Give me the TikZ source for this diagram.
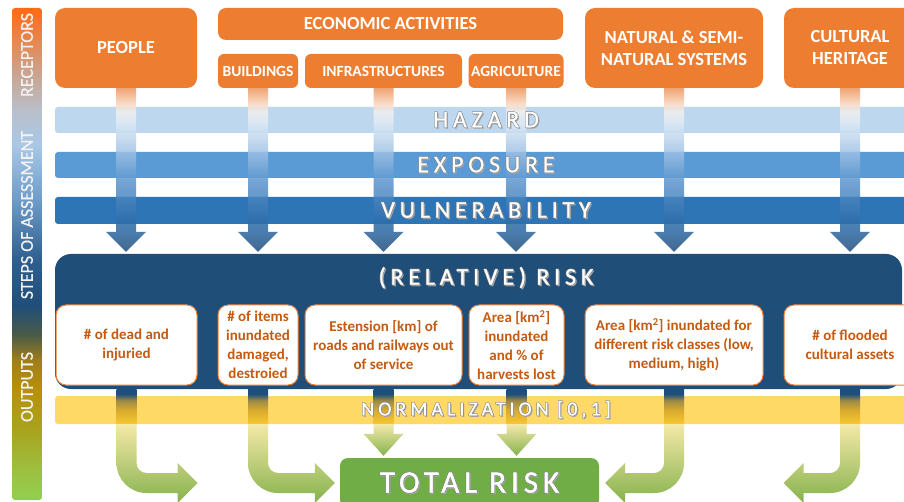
\documentclass[tikz,border=0pt]{standalone}
\usepackage{fontspec}
\setmainfont{Carlito}
\newfontfamily\bandfont[LetterSpace=20,FakeBold=0.8]{Carlito}
\newfontfamily\totalfont[LetterSpace=16,FakeBold=1.4]{Carlito}
\newfontfamily\sidefont[FakeBold=0.5]{Carlito}
\usetikzlibrary{calc}

\definecolor{rcvorange}{HTML}{ED7D31}
\definecolor{hazc}{HTML}{BDD7EE}
\definecolor{expc}{HTML}{5B9BD5}
\definecolor{vulc}{HTML}{2E75B6}
\definecolor{riskc}{HTML}{1F4E79}
\definecolor{normc}{HTML}{FFD966}
\definecolor{totc}{HTML}{70AD47}
\definecolor{outtxt}{HTML}{C55A11}
\definecolor{sidetxtc}{HTML}{F2F2F2}
\definecolor{grtop}{HTML}{F3E9A8}
\definecolor{grbot}{HTML}{86B24C}
% side bar
\definecolor{bar1}{HTML}{92D050}\definecolor{bar2}{HTML}{9DC041}
\definecolor{bar3}{HTML}{A8A41E}\definecolor{bar4}{HTML}{B8900A}
\definecolor{bar5}{HTML}{A07E1A}\definecolor{bar6}{HTML}{4A5A48}
\definecolor{bar7}{HTML}{1F4E79}\definecolor{bar8}{HTML}{2F5F8F}
\definecolor{bar9}{HTML}{6E9CC8}\definecolor{bar10}{HTML}{A9C8E6}
\definecolor{bar11}{HTML}{B9BFCB}\definecolor{bar12}{HTML}{C9A593}
\definecolor{bar13}{HTML}{E8864E}\definecolor{bar14}{HTML}{FF6A14}
\pgfdeclareverticalshading{barshade}{100bp}{color(0bp)=(bar1); color(25bp)=(bar1);
  color(28bp)=(bar2); color(32.1bp)=(bar3); color(36.2bp)=(bar4); color(39.2bp)=(bar5);
  color(41.8bp)=(bar6); color(44.8bp)=(bar7); color(49.4bp)=(bar8); color(55.5bp)=(bar9);
  color(61.1bp)=(bar10); color(64.6bp)=(bar11); color(68.2bp)=(bar12); color(71.7bp)=(bar13);
  color(75bp)=(bar14); color(100bp)=(bar14)}
% stems
\definecolor{st1}{HTML}{1F4E79}\definecolor{st2}{HTML}{2C66A0}
\definecolor{st3}{HTML}{2E6DAA}\definecolor{st4}{HTML}{5E97CF}
\definecolor{st5}{HTML}{A2C4E6}\definecolor{st6}{HTML}{DCE9F6}
\definecolor{st7}{HTML}{F4F1EE}\definecolor{st8}{HTML}{F6CDB0}
\definecolor{st9}{HTML}{EE955C}
\pgfdeclareverticalshading{stemshade}{100bp}{color(0bp)=(st1); color(25bp)=(st1);
  color(31bp)=(st2); color(34bp)=(st3); color(47bp)=(st4); color(56bp)=(st5);
  color(64bp)=(st6); color(68bp)=(st7); color(71bp)=(st8); color(75bp)=(st9); color(100bp)=(st9)}
\definecolor{nm1}{HTML}{F9C832}\definecolor{nm2}{HTML}{D9AB2E}
\definecolor{nm3}{HTML}{9C8A45}\definecolor{nm4}{HTML}{1F4E79}
\pgfdeclareverticalshading{normshade}{100bp}{color(0bp)=(nm1); color(25bp)=(nm1);
  color(45bp)=(nm2); color(59bp)=(nm3); color(68bp)=(nm4); color(100bp)=(nm4)}

\newcommand{\shtxt}[1]{%
  \rlap{\kern1.3pt\raisebox{-1.3pt}{\color{black!35}#1}}%
  \rlap{\kern-.5pt\color{black!50}#1}\rlap{\kern.5pt\color{black!50}#1}%
  \rlap{\raisebox{.5pt}{\color{black!50}#1}}\rlap{\raisebox{-.5pt}{\color{black!50}#1}}#1}

\tikzset{
  receptor/.style={fill=rcvorange, rounded corners=10, text=white, align=center, inner sep=0pt,
    font=\bfseries\fontsize{18.5}{22}\selectfont},
  subrec/.style={receptor, rounded corners=6, minimum height=34, font=\bfseries\fontsize{15.5}{18}\selectfont},
  band/.style={minimum width=862, minimum height=26, inner sep=0pt, rounded corners=3},
  bandtxt/.style={text=white, inner sep=0pt, font=\bandfont\fontsize{24}{24}\selectfont},
  outbox/.style={draw=rcvorange, fill=white, line width=1, rounded corners=10, text=outtxt, align=center,
    inner sep=0pt, minimum height=80, font=\bfseries\fontsize{15}{19}\selectfont},
  sidetxt/.style={rotate=90, text=sidetxtc, font=\sidefont\fontsize{18}{18}\selectfont},
  greenarr/.style={top color=grtop, bottom color=grbot}
}

\begin{document}
\begin{tikzpicture}[x=1pt, y=-1pt, line join=round]
\clip (0,0) rectangle (904,502);
\fill[white] (0,0) rectangle (904,502);

\shade[shading=barshade, rounded corners=3] (12,8) rectangle (42,500);
\node[sidetxt] (lrec) at (27,55) {RECEPTORS};
\node[sidetxt] (lsteps) at (27,215) {STEPS OF ASSESSMENT};
\node[sidetxt] (lout) at (27,387) {OUTPUTS};

\node[receptor, minimum width=142, minimum height=80] (people) at (126,48) {PEOPLE};
\node[receptor, rounded corners=8, minimum width=345, minimum height=32] (econ) at (390.5,24) {ECONOMIC ACTIVITIES};
\node[subrec, minimum width=80] (build) at (258,71) {BUILDINGS};
\node[subrec, minimum width=157] (infra) at (383.5,71) {INFRASTRUCTURES};
\node[subrec, minimum width=95] (agri) at (516,71) {AGRICULTURE};
\node[receptor, minimum width=178, minimum height=80] (nat) at (674,48) {NATURAL \& SEMI-\\NATURAL SYSTEMS};
\node[receptor, minimum width=132, minimum height=80] (cult) at (850,48) {CULTURAL\\HERITAGE};

\node[fill=riskc, rounded corners=16, minimum width=847, minimum height=135, inner sep=0pt] (risk) at (478.5,321.5) {};
\node[bandtxt] (risktitle) at (486,278) {\shtxt{(RELATIVE) RISK}};

\node[band, fill=hazc] (haz) at (486,120) {};
\node[band, fill=expc] (expo) at (486,165) {};
\node[band, fill=vulc, minimum height=27] (vuln) at (486,210.5) {};

\foreach \col in {people,build,infra,agri,nat,cult}{
  \shade[shading=stemshade, fill opacity=.85] let \p1=(\col.south), \p2=(\col.south |- risk.north) in
    (\x1-10pt,\y1) -- (\x1+10pt,\y1) -- (\x1+10pt,\y2+22pt) -- (\x1+20pt,\y2+22pt)
    -- (\x1,\y2+2pt) -- (\x1-20pt,\y2+22pt) -- (\x1-10pt,\y2+22pt) -- cycle;
}
\node[bandtxt] (hazt) at (haz) {\shtxt{HAZARD}};
\node[bandtxt] (expt) at (expo) {\shtxt{EXPOSURE}};
\node[bandtxt] (vulnt) at (vuln) {\shtxt{VULNERABILITY}};

\node[outbox, minimum width=141] (o1) at (126.5,345) {\# of dead and\\injuried};
\node[outbox, minimum width=80] (o2) at (258,345) {\# of items\\inundated\\damaged,\\destroied};
\node[outbox, minimum width=157] (o3) at (383.5,345) {Estension [km] of\\roads and railways out\\of service};
\node[outbox, minimum width=95] (o4) at (516.5,345) {Area [km\textsuperscript{2}]\\inundated\\and \% of\\harvests lost};
\node[outbox, minimum width=178] (o5) at (674,345) {Area [km\textsuperscript{2}] inundated for\\different risk classes (low,\\medium, high)};
\node[outbox, minimum width=132] (o6) at (850,345) {\# of flooded\\cultural assets};

\node[band, fill=normc, minimum height=28] (norm) at (486,410) {};
\foreach \col in {o1,o2,o3,o4,o5,o6}{
  \shade[shading=normshade] let \p1=(\col.south |- risk.south), \p2=(\col.south |- norm.south) in
    (\x1-10pt,\y1) rectangle (\x1+10pt,\y2);
}
\node[bandtxt, font=\bandfont\fontsize{20}{20}\selectfont] (normt) at (norm) {\shtxt{NORMALIZATION [0,1]}};

\node[fill=totc, rounded corners=8, minimum width=259, minimum height=50, inner sep=0pt, text=white,
  font=\totalfont\fontsize{31}{31}\selectfont] (total) at (469.5,483) {\shtxt{TOTAL RISK}};

\coordinate (tipA) at (o1.east |- total.west);
\coordinate (tipB) at ($(total.west)+(-5,0)$);
\coordinate (tipC) at ($(total.east)+(6,0)$);
\coordinate (tipD) at (o6.west |- total.east);

\foreach \col in {o3,o4}{
  \shade[greenarr] let \p1=(\col.south |- norm.south), \p2=(\col.south |- total.north) in
    (\x1-10pt,\y1) -- (\x1+10pt,\y1) -- (\x1+10pt,\y2+24pt) -- (\x1+20pt,\y2+24pt)
    -- (\x1,\y2+2pt) -- (\x1-20pt,\y2+24pt) -- (\x1-10pt,\y2+24pt) -- cycle;
}
\foreach \col/\tip in {o1/tipA,o2/tipB}{
  \shade[greenarr] let \p1=(\col.south |- norm.south), \p2=(\tip) in
    (\x1-10pt,\y1) -- (\x1-10pt,\y2+20pt) arc[start angle=180, end angle=270, radius=30pt]
    -- (\x2-20pt,\y2-10pt) -- (\x2-20pt,\y2-20pt) -- (\x2,\y2) -- (\x2-20pt,\y2+20pt)
    -- (\x2-20pt,\y2+10pt) -- (\x1+20pt,\y2+10pt) arc[start angle=270, end angle=180, radius=10pt]
    -- (\x1+10pt,\y1) -- cycle;
}
\foreach \col/\tip in {o5/tipC,o6/tipD}{
  \shade[greenarr] let \p1=(\col.south |- norm.south), \p2=(\tip) in
    (\x1+10pt,\y1) -- (\x1+10pt,\y2+20pt) arc[start angle=0, end angle=-90, radius=30pt]
    -- (\x2+20pt,\y2-10pt) -- (\x2+20pt,\y2-20pt) -- (\x2,\y2) -- (\x2+20pt,\y2+20pt)
    -- (\x2+20pt,\y2+10pt) -- (\x1-20pt,\y2+10pt) arc[start angle=-90, end angle=0, radius=10pt]
    -- (\x1-10pt,\y1) -- cycle;
}
\end{tikzpicture}
\end{document}
